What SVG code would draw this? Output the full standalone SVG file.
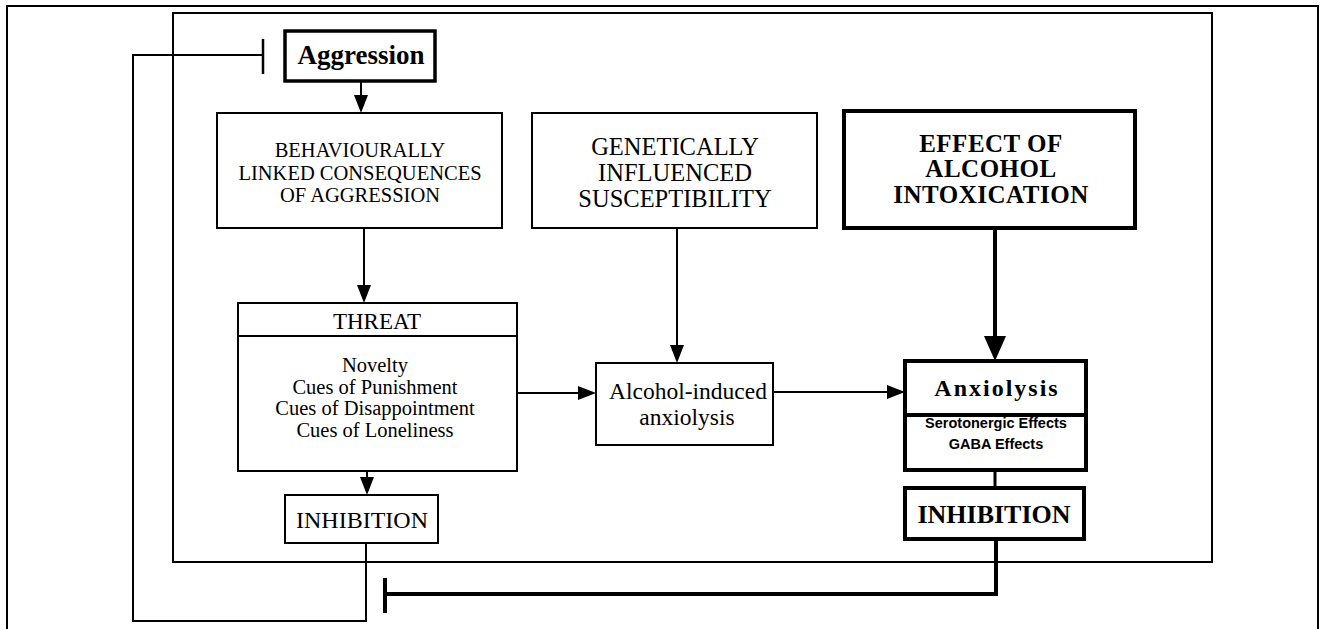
<svg xmlns="http://www.w3.org/2000/svg" width="1325" height="629" viewBox="0 0 1325 629">
<style>
.ln{fill:none;stroke:#000;stroke-width:2}
.lnk{fill:none;stroke:#000;stroke-width:4}
.bx{fill:#fff;stroke:#000;stroke-width:2}
.bxk{fill:#fff;stroke:#000;stroke-width:4}
.t{font-family:"Liberation Serif","Times New Roman",serif;text-anchor:middle;fill:#000}
.b{font-weight:bold}
.s{font-family:"Liberation Sans",Arial,sans-serif;font-weight:bold;text-anchor:middle;fill:#000;font-size:14.5px}
</style>
<defs>
<marker id="a" markerUnits="userSpaceOnUse" viewBox="0 0 18 14" markerWidth="18" markerHeight="14" refX="14" refY="7" orient="auto"><path d="M0,0 L18,7 L0,14 Z" fill="#000"/></marker>
<marker id="A" markerUnits="userSpaceOnUse" viewBox="0 0 25 22" markerWidth="25" markerHeight="22" refX="20" refY="11" orient="auto"><path d="M0,0 L25,11 L0,22 Z" fill="#000"/></marker>
</defs>
<rect width="1325" height="629" fill="#fff"/>
<g id="frames">
<path class="ln" d="M7,629 V6 H1318 V629"/>
<rect class="ln" x="173" y="13" width="1039" height="549"/>
</g>
<g id="connectors">
<path class="ln" d="M361,81 V109" marker-end="url(#a)"/>
<path class="ln" d="M364,228 V299" marker-end="url(#a)"/>
<path class="ln" d="M367,471 V491" marker-end="url(#a)"/>
<path class="ln" d="M517,393 H592" marker-end="url(#a)"/>
<path class="ln" d="M677,228 V359" marker-end="url(#a)"/>
<path class="ln" d="M773,392 H901" marker-end="url(#a)"/>
<path class="lnk" d="M995,228 V356" marker-end="url(#A)"/>
<path class="ln" d="M995,470 V488" style="stroke-width:3"/>
<path class="lnk" d="M996,539 V594 H385"/>
<path class="lnk" d="M385,578 V613"/>
<path class="ln" d="M366,543 V621 H133 V55 H263"/>
<path class="ln" d="M263,39 V74" style="stroke-width:2.5"/>
</g>
<g id="aggression">
<rect x="285" y="31" width="150" height="50" fill="#fff" stroke="#000" stroke-width="3.5"/>
<text class="t b" x="361" y="64" font-size="27">Aggression</text>
</g>
<g id="behaviourally">
<rect class="bx" x="217" y="113" width="285" height="115"/>
<text class="t" font-size="20.5"><tspan x="360" y="157">BEHAVIOURALLY</tspan><tspan x="360" y="179.5">LINKED CONSEQUENCES</tspan><tspan x="360" y="202">OF AGGRESSION</tspan></text>
</g>
<g id="genetically">
<rect class="bx" x="532" y="113" width="285" height="115"/>
<text class="t" font-size="24.5"><tspan x="675" y="155">GENETICALLY</tspan><tspan x="675" y="181">INFLUENCED</tspan><tspan x="675" y="207">SUSCEPTIBILITY</tspan></text>
</g>
<g id="effect">
<rect class="bxk" x="844" y="111" width="291" height="117"/>
<text class="t b" font-size="25" letter-spacing="0.5"><tspan x="991" y="152">EFFECT OF</tspan><tspan x="991" y="177">ALCOHOL</tspan><tspan x="991" y="203">INTOXICATION</tspan></text>
</g>
<g id="threat">
<rect class="bx" x="238" y="303" width="279" height="168"/>
<path class="ln" d="M238,336 H517"/>
<text class="t" x="377" y="329" font-size="23">THREAT</text>
<text class="t" font-size="20.5"><tspan x="375" y="372">Novelty</tspan><tspan x="375" y="393.5">Cues of Punishment</tspan><tspan x="375" y="415">Cues of Disappointment</tspan><tspan x="375" y="436.5">Cues of Loneliness</tspan></text>
</g>
<g id="alcohol-induced">
<rect class="bx" x="596" y="363" width="177" height="82"/>
<text class="t" font-size="23.5"><tspan x="688" y="399">Alcohol-induced</tspan><tspan x="687" y="425">anxiolysis</tspan></text>
</g>
<g id="anxiolysis">
<rect class="bxk" x="905" y="361" width="181" height="109"/>
<path class="lnk" d="M905,415 H1086"/>
<text class="t b" x="997" y="396" font-size="24" letter-spacing="2">Anxiolysis</text>
<text class="s" x="996" y="428">Serotonergic Effects</text>
<text class="s" x="996" y="449">GABA Effects</text>
</g>
<g id="inhibition-right">
<rect class="bxk" x="905" y="488" width="179" height="51"/>
<text class="t b" x="994" y="523" font-size="26">INHIBITION</text>
</g>
<g id="inhibition-left">
<rect class="bx" x="285" y="495" width="153" height="48"/>
<text class="t" x="362" y="528" font-size="24">INHIBITION</text>
</g>
</svg>
